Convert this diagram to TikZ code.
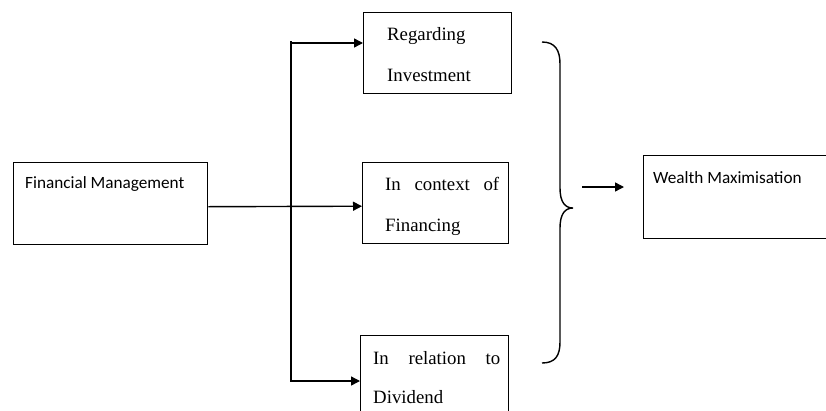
\documentclass[tikz,border=0pt]{standalone}
\usepackage{fontspec}
\setmainfont{Liberation Serif}
\newfontfamily\calfont{Carlito}
\usetikzlibrary{arrows.meta}
\tikzset{
  x=1pt, y=-1pt,
  box/.style={draw=black, line width=1.4pt, rectangle, inner sep=0pt, anchor=north west},
  sanslbl/.style={font=\calfont\fontsize{17.2}{20}\selectfont, inner sep=0pt, anchor=base west},
  seriflbl/.style={font=\fontsize{18.8}{22}\selectfont, inner sep=0pt, anchor=base west},
  link/.style={line width=1.4pt, draw=black},
  arr/.style={link, -{Triangle[length=9pt,width=9pt]}},
}
\begin{document}
\begin{tikzpicture}
\useasboundingbox (0,0) rectangle (826,410);
\clip (0,0) rectangle (826,410);
% boxes
\node[box, minimum width=194pt, minimum height=82pt] (fm) at (13,162) {};
\node[box, minimum width=148pt, minimum height=81pt] (reg) at (363,12) {};
\node[box, minimum width=146pt, minimum height=81pt] (fin) at (362,162) {};
\node[box, minimum width=148pt, minimum height=90pt] (div) at (360,335) {};
\node[box, minimum width=200pt, minimum height=83pt] (wm) at (643,155) {};
% texts
\node[sanslbl] (fmt) at (25,188) {Financial Management};
\node[sanslbl] (wmt) at (653,183) {Wealth Maximisation};
\node[seriflbl] (reg1) at (387,40) {Regarding};
\node[seriflbl] (reg2) at (387,81) {Investment};
\node[seriflbl, text width=114pt] (fin1) at (385,190) {In\hfill context\hfill of};
\node[seriflbl] (fin2) at (385,231) {Financing};
\node[seriflbl, text width=127pt] (div1) at (373,364) {In\hfill relation\hfill to};
\node[seriflbl] (div2) at (373,403) {Dividend};
% trunk
\coordinate (ttop) at (291,41);
\coordinate (tbot) at (291,382);
\coordinate (t1) at (291,43);
\coordinate (t3) at (291,381);
\draw[link] (ttop) -- (tbot);
\draw[arr] (t1) -- (t1 -| reg.west);
\draw[arr] ([yshift=-3pt]fm.east) -- ([yshift=-3pt]fin.west);
\draw[arr] (t3) -- (t3 -| div.west);
% brace
\coordinate (btop) at (542,42);
\coordinate (btip) at (573,208);
\coordinate (bbot) at (542,363);
\draw[link] (btop) .. controls (555,42) and (560,50) .. (560,64)
  -- (560,188) .. controls (560,202) and (565,208) .. (btip)
  .. controls (565,208) and (560,214) .. (560,228)
  -- (560,342) .. controls (560,356) and (555,363) .. (bbot);
% arrow to wealth maximisation
\coordinate (a1) at (582,187);
\coordinate (a2) at (624,187);
\draw[arr] (a1) -- (a2);
\end{tikzpicture}
\end{document}
